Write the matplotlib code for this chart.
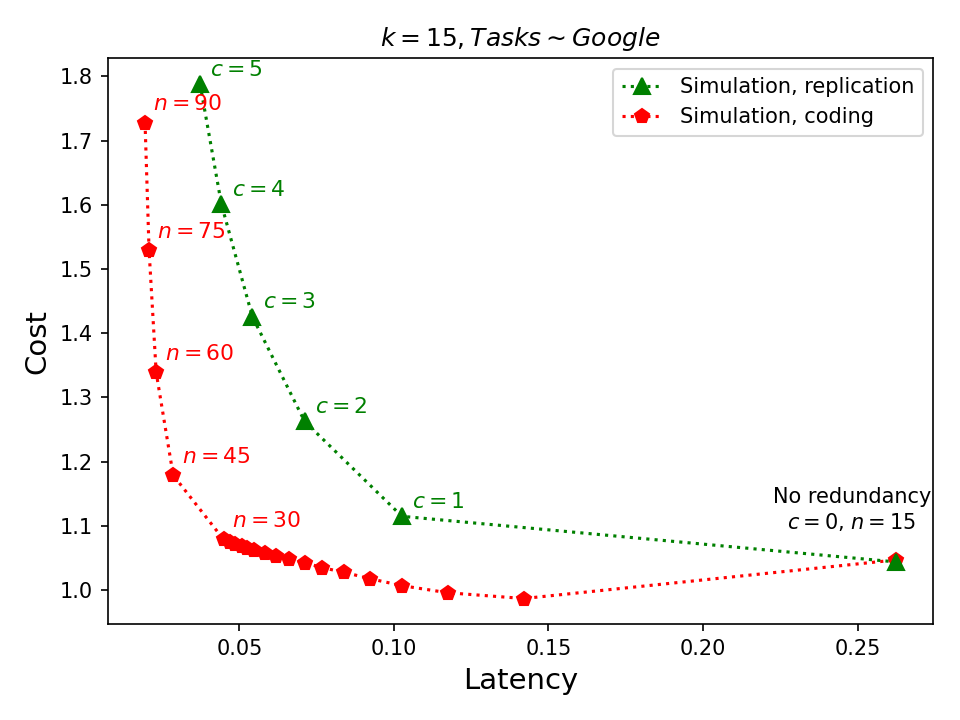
import matplotlib
matplotlib.use("Agg")
import matplotlib.pyplot as plt

# replication: c = 5 .. 0
rep_c = [5, 4, 3, 2, 1, 0]
rep_latency = [0.0373, 0.0442, 0.0542, 0.0711, 0.1026, 0.2623]
rep_cost = [1.788, 1.601, 1.426, 1.263, 1.115, 1.044]

# coding: n = 90, 75, 60, 45, 30, ... down to n = 15
cod_latency = [0.0195, 0.0208, 0.0231, 0.0286, 0.0449, 0.0469, 0.0487, 0.0509,
               0.0525, 0.0546, 0.0584, 0.0620, 0.0660, 0.0711, 0.0768, 0.0837,
               0.0922, 0.1026, 0.1174, 0.1420, 0.2623]
cod_cost = [1.728, 1.529, 1.339, 1.179, 1.079, 1.075, 1.072, 1.069,
            1.066, 1.062, 1.058, 1.053, 1.048, 1.043, 1.035, 1.028,
            1.018, 1.007, 0.996, 0.987, 1.047]
cod_labels = {0: 90, 1: 75, 2: 60, 3: 45, 4: 30}

fig, ax = plt.subplots(figsize=(6.4, 4.8), dpi=150)
fig.subplots_adjust(left=0.112, right=0.972, top=0.919, bottom=0.133)

ax.plot(rep_latency, rep_cost, ls=':', color='green', marker='^', ms=8,
        lw=1.5, label='Simulation, replication', zorder=3)
ax.plot(cod_latency, cod_cost, ls=':', color='red', marker='p', ms=7,
        lw=1.5, label='Simulation, coding', zorder=2)

for i, c in enumerate(rep_c[:-1]):
    ax.annotate(r'$c={}$'.format(c), (rep_latency[i], rep_cost[i]),
                xytext=(5, 2), textcoords='offset points', color='green',
                fontsize=10.5, ha='left', va='bottom')

for i, n in cod_labels.items():
    ax.annotate(r'$n={}$'.format(n), (cod_latency[i], cod_cost[i]),
                xytext=(4, 4), textcoords='offset points', color='red',
                fontsize=10.5, ha='left', va='bottom')

ax.annotate('No redundancy\n' + r'$c=0$, $n=15$', (rep_latency[-1], rep_cost[-1]),
            xytext=(-21, 14), textcoords='offset points', color='black',
            fontsize=10, ha='center', va='bottom', multialignment='center')

ax.set_xlabel('Latency', fontsize=14)
ax.set_ylabel('Cost', fontsize=14)
ax.set_title(r'$k=15, Tasks \sim Google$', fontsize=12)
ax.legend(loc='upper right', fontsize=10)

fig.savefig('out.png', dpi=150)
